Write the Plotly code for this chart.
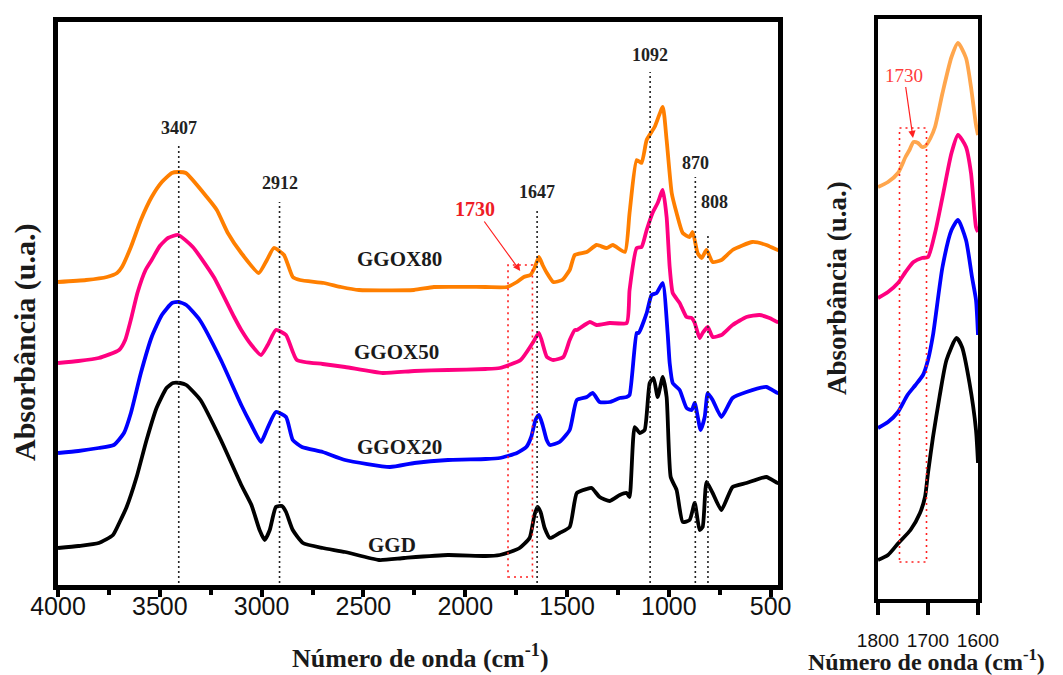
import plotly.graph_objects as go

# ---------------- FTIR spectra (main panel, arbitrary absorbance units) ----------------
wn_ggd = [4000, 3900, 3800, 3730, 3697, 3663, 3614, 3565, 3516, 3467, 3435, 3400, 3370, 3300, 3200,
          3100, 3050, 3010, 2985, 2960, 2930, 2900, 2880, 2847, 2797, 2700, 2590, 2423, 2300, 2085,
          1900, 1830, 1780, 1733, 1684, 1660, 1645, 1630, 1610, 1584, 1537, 1487, 1452, 1403, 1379,
          1340, 1290, 1241, 1207, 1193, 1168, 1143, 1119, 1094, 1075, 1055, 1030, 1011, 991, 962,
          932, 898, 873, 849, 834, 815, 785, 742, 687, 619, 521, 466, 452]
abs_ggd = [0.42, 0.44, 0.47, 0.55, 0.68, 0.83, 1.13, 1.50, 1.82, 2.02, 2.07, 2.07, 2.05, 1.90, 1.50,
           1.05, 0.85, 0.60, 0.50, 0.60, 0.83, 0.84, 0.78, 0.60, 0.47, 0.42, 0.38, 0.30, 0.32, 0.35,
           0.34, 0.35, 0.38, 0.42, 0.52, 0.75, 0.83, 0.78, 0.62, 0.52, 0.57, 0.63, 0.97, 1.01, 1.02,
           0.93, 0.89, 0.95, 0.97, 0.93, 1.63, 1.57, 1.60, 2.07, 2.12, 1.93, 2.13, 1.93, 1.13, 1.00,
           0.68, 0.70, 0.87, 0.60, 0.63, 1.08, 0.97, 0.80, 1.03, 1.07, 1.13, 1.07, 1.07]

wn_ggox20 = [4000, 3900, 3800, 3726, 3676, 3642, 3593, 3540, 3490, 3440, 3407, 3370, 3304, 3200, 3100,
             3050, 3003, 2975, 2930, 2880, 2847, 2802, 2700, 2590, 2370, 2250, 2085, 1900, 1830, 1746,
             1700, 1676, 1655, 1638, 1620, 1600, 1584, 1537, 1487, 1452, 1403, 1374, 1340, 1290, 1241,
             1207, 1193, 1158, 1148, 1109, 1085, 1060, 1030, 1006, 996, 981, 947, 913, 888, 873,
             844, 824, 809, 785, 742, 687, 619, 521, 466, 452]
abs_ggox20 = [1.37, 1.39, 1.42, 1.45, 1.57, 1.77, 2.17, 2.53, 2.75, 2.87, 2.88, 2.85, 2.70, 2.30, 1.85,
              1.65, 1.48, 1.60, 1.78, 1.73, 1.50, 1.43, 1.38, 1.30, 1.23, 1.27, 1.30, 1.31, 1.32, 1.37,
              1.43, 1.53, 1.70, 1.75, 1.65, 1.50, 1.45, 1.48, 1.60, 1.90, 1.93, 1.97, 1.88, 1.88, 1.92,
              1.93, 1.95, 2.57, 2.57, 2.77, 2.95, 2.97, 3.07, 2.57, 2.27, 2.07, 2.00, 1.82, 1.80, 1.87,
              1.60, 1.73, 1.97, 1.90, 1.73, 1.92, 1.98, 2.03, 1.97, 1.97]

wn_ggox50 = [4000, 3900, 3800, 3700, 3670, 3640, 3610, 3570, 3540, 3500, 3460, 3410, 3338, 3235, 3135,
             3100, 3050, 3003, 2970, 2930, 2880, 2827, 2700, 2590, 2406, 2250, 2085, 1900, 1830, 1728,
             1669, 1638, 1599, 1568, 1518, 1487, 1462, 1452, 1388, 1355, 1290, 1207, 1193, 1158, 1134,
             1109, 1080, 1055, 1030, 1011, 996, 981, 947, 913, 888, 873, 849, 834, 809, 785,
             742, 687, 619, 555, 506, 466, 452]
abs_ggox50 = [2.27, 2.29, 2.32, 2.40, 2.50, 2.72, 2.97, 3.20, 3.30, 3.44, 3.52, 3.55, 3.43, 3.13, 2.73,
              2.60, 2.45, 2.35, 2.45, 2.60, 2.55, 2.30, 2.26, 2.23, 2.17, 2.19, 2.20, 2.21, 2.22, 2.30,
              2.47, 2.57, 2.33, 2.30, 2.33, 2.50, 2.60, 2.60, 2.68, 2.65, 2.67, 2.67, 3.00, 3.42, 3.43,
              3.60, 3.77, 3.87, 4.00, 3.73, 3.23, 2.97, 2.87, 2.73, 2.72, 2.67, 2.52, 2.57, 2.63, 2.53,
              2.55, 2.65, 2.73, 2.75, 2.72, 2.68, 2.68]

wn_ggox80 = [4000, 3862, 3760, 3710, 3686, 3642, 3593, 3540, 3490, 3441, 3410, 3372, 3269, 3220, 3166,
             3100, 3014, 2974, 2940, 2890, 2847, 2812, 2694, 2610, 2522, 2252, 2154, 1900, 1795, 1746,
             1712, 1680, 1660, 1638, 1620, 1599, 1568, 1524, 1487, 1462, 1403, 1355, 1306, 1275, 1216,
             1193, 1158, 1134, 1109, 1070, 1030, 1011, 986, 962, 932, 898, 883, 859, 839, 815,
             785, 742, 687, 590, 521, 466, 452]
abs_ggox80 = [3.08, 3.10, 3.13, 3.17, 3.23, 3.43, 3.70, 3.93, 4.08, 4.17, 4.18, 4.17, 3.93, 3.80, 3.57,
              3.37, 3.17, 3.30, 3.42, 3.35, 3.13, 3.10, 3.07, 3.03, 3.00, 3.00, 3.03, 3.03, 3.03, 3.08,
              3.13, 3.15, 3.22, 3.33, 3.25, 3.17, 3.08, 3.10, 3.20, 3.35, 3.38, 3.45, 3.42, 3.45, 3.38,
              3.77, 4.30, 4.27, 4.50, 4.63, 4.83, 4.50, 3.97, 3.77, 3.57, 3.53, 3.58, 3.37, 3.32, 3.40,
              3.28, 3.30, 3.40, 3.48, 3.45, 3.40, 3.40]

# ---------------- carbonyl region 1800-1600 cm-1 (side panel) ----------------
wn_z_ggd = [1800, 1780, 1759, 1735, 1716, 1706, 1700, 1690, 1677, 1663, 1643, 1632, 1617, 1604, 1600]
abs_z_ggd = [0.40, 0.45, 0.57, 0.70, 0.87, 1.03, 1.27, 1.63, 2.03, 2.40, 2.62, 2.53, 2.17, 1.70, 1.37]

wn_z_ggox20 = [1800, 1780, 1760, 1741, 1725, 1710, 1700, 1690, 1671, 1653, 1640, 1624, 1612, 1604, 1600]
abs_z_ggox20 = [1.72, 1.78, 1.88, 2.05, 2.15, 2.25, 2.40, 2.65, 3.33, 3.70, 3.80, 3.60, 3.23, 3.00, 2.65]

wn_z_ggox50 = [1800, 1780, 1760, 1745, 1729, 1712, 1700, 1686, 1671, 1653, 1640, 1624, 1614, 1604, 1600]
abs_z_ggox50 = [3.02, 3.08, 3.17, 3.28, 3.38, 3.42, 3.43, 3.67, 4.03, 4.47, 4.65, 4.53, 4.27, 3.73, 3.68]

wn_z_ggox80 = [1800, 1780, 1760, 1745, 1737, 1729, 1720, 1712, 1705, 1695, 1686, 1671, 1653, 1640,
               1624, 1614, 1604, 1600]
abs_z_ggox80 = [4.13, 4.18, 4.27, 4.43, 4.50, 4.58, 4.57, 4.53, 4.54, 4.62, 4.73, 5.07, 5.43, 5.57,
                5.42, 5.13, 4.75, 4.65]

# ---------------- band assignments ----------------
peak_wn = [3407, 2912, 1647, 1092, 870, 808]
peak_text = ["3407", "2912", "1647", "1092", "870", "808"]
peak_label_y = [4.62, 4.07, 3.98, 5.35, 4.27, 3.88]
peak_line_top = [4.45, 3.88, 3.80, 5.18, 4.13, 3.57]
peak_label_dx = [0, 0, 0, 0, 0, 7]

sample_names = ["GGOX80", "GGOX50", "GGOX20", "GGD"]
sample_label_wn = [2321, 2336, 2321, 2360]
sample_label_y = [3.31, 2.38, 1.43, 0.45]

carbonyl_wn = 1730

W, H = 1063, 675
SERIF = "Liberation Serif"
SANS = "Liberation Sans"

main_series = [
    (wn_ggd, abs_ggd, "#000000", "GGD"),
    (wn_ggox20, abs_ggox20, "#0000FF", "GGOX20"),
    (wn_ggox50, abs_ggox50, "#FF0080", "GGOX50"),
    (wn_ggox80, abs_ggox80, "#FF7F00", "GGOX80"),
]
zoom_series = [
    (wn_z_ggd, abs_z_ggd, "#000000", "GGD"),
    (wn_z_ggox20, abs_z_ggox20, "#0000FF", "GGOX20"),
    (wn_z_ggox50, abs_z_ggox50, "#FF0080", "GGOX50"),
    (wn_z_ggox80, abs_z_ggox80, "#FFA64D", "GGOX80"),
]

fig = go.Figure()
for xs, ys, col, name in main_series:
    fig.add_trace(go.Scatter(x=xs, y=ys, mode="lines", name=name, showlegend=False,
                             line=dict(color=col, width=3.8, shape="spline", smoothing=0.5),
                             xaxis="x", yaxis="y"))
for xs, ys, col, name in zoom_series:
    fig.add_trace(go.Scatter(x=xs, y=ys, mode="lines", name=name, showlegend=False,
                             line=dict(color=col, width=3.8, shape="spline", smoothing=0.6),
                             xaxis="x2", yaxis="y2"))

shapes = []
# dotted guide lines under each band label
for wn, top in zip(peak_wn, peak_line_top):
    shapes.append(dict(type="line", xref="x", yref="y", x0=wn, x1=wn, y0=0.07, y1=top,
                       line=dict(color="#222222", width=1.6, dash="2px,3px")))
# dotted box around the carbonyl shoulder, main panel
shapes.append(dict(type="rect", xref="x", yref="y", x0=carbonyl_wn + 60, x1=carbonyl_wn - 60,
                   y0=0.13, y1=3.25, line=dict(color="#FF2020", width=1.6, dash="2px,4px")))
# dotted box in the side panel
shapes.append(dict(type="rect", xref="x2", yref="y2", x0=carbonyl_wn + 27, x1=carbonyl_wn - 27,
                   y0=0.38, y1=4.72, line=dict(color="#FF2020", width=1.6, dash="2px,4px")))

annotations = []
for wn, txt, ly, dx in zip(peak_wn, peak_text, peak_label_y, peak_label_dx):
    annotations.append(dict(x=wn, y=ly, xref="x", yref="y", text="<b>" + txt + "</b>",
                            showarrow=False, xshift=dx, xanchor="center", yanchor="middle",
                            font=dict(family=SERIF, size=18, color="#222222")))
for name, lx, ly in zip(sample_names, sample_label_wn, sample_label_y):
    annotations.append(dict(x=lx, y=ly, xref="x", yref="y", text="<b>" + name + "</b>",
                            showarrow=False, xanchor="center", yanchor="middle",
                            font=dict(family=SERIF, size=21, color="#1a1a1a")))
# carbonyl arrow, main panel
annotations.append(dict(x=carbonyl_wn, y=3.19, xref="x", yref="y", text="<b>1730</b>",
                        showarrow=True, ax=-45, ay=-62, arrowhead=2, arrowsize=1.2,
                        arrowwidth=1.2, arrowcolor="#FF2020", standoff=0,
                        font=dict(family=SERIF, size=20, color="#EE1C25")))
# carbonyl arrow, side panel
annotations.append(dict(x=carbonyl_wn, y=4.62, xref="x2", yref="y2", text="1730",
                        showarrow=True, ax=-9, ay=-63, arrowhead=2, arrowsize=1.2,
                        arrowwidth=1.2, arrowcolor="#FF2020", standoff=0,
                        font=dict(family=SERIF, size=19, color="#FF3B3B")))

# axis titles
xtitle = "<b>Número de onda (cm<sup>-1</sup>)</b>"
ytitle = "<b>Absorbância (u.a.)</b>"
annotations += [
    dict(x=420 / W, y=1 - 656 / H, xref="paper", yref="paper", text=xtitle, showarrow=False,
         xanchor="center", yanchor="middle", font=dict(family=SERIF, size=26, color="#1a1a1a")),
    dict(x=926 / W, y=1 - 660 / H, xref="paper", yref="paper", text=xtitle, showarrow=False,
         xanchor="center", yanchor="middle", font=dict(family=SERIF, size=24, color="#1a1a1a")),
    dict(x=25 / W, y=1 - 342 / H, xref="paper", yref="paper", text=ytitle, showarrow=False,
         textangle=-90, xanchor="center", yanchor="middle",
         font=dict(family=SERIF, size=30, color="#1a1a1a")),
    dict(x=837 / W, y=1 - 288 / H, xref="paper", yref="paper", text=ytitle, showarrow=False,
         textangle=-90, xanchor="center", yanchor="middle",
         font=dict(family=SERIF, size=27, color="#1a1a1a")),
]

fig.update_layout(
    width=W, height=H,
    margin=dict(l=0, r=0, t=0, b=0, autoexpand=False),
    paper_bgcolor="white", plot_bgcolor="white",
    showlegend=False,
    shapes=shapes,
    annotations=annotations,
    xaxis=dict(domain=[58 / W, 778 / W], range=[4000, 464], anchor="y",
               showline=True, mirror=True, linecolor="black", linewidth=5,
               ticks="outside", ticklen=7, tickwidth=4, tickcolor="black",
               tick0=500, dtick=500, showgrid=False, zeroline=False,
               ticklabelstandoff=-12,
               tickfont=dict(family=SANS, size=25, color="#111111"),
               minor=dict(ticks="outside", ticklen=5, tickwidth=4, tickcolor="black",
                          dtick=250, tick0=500, showgrid=False)),
    yaxis=dict(domain=[1 - 585 / H, 1 - 22 / H], range=[0.05, 5.68], anchor="x",
               showline=True, mirror=True, linecolor="black", linewidth=5,
               ticks="", showticklabels=False, showgrid=False, zeroline=False),
    xaxis2=dict(domain=[878 / W, 978 / W], range=[1800, 1600], anchor="y2",
                showline=True, mirror=True, linecolor="black", linewidth=4,
                ticks="outside", ticklen=12, tickwidth=4, tickcolor="black",
                tickvals=[1800, 1700, 1600], ticktext=["1800", "1700", "1600"],
                showgrid=False, zeroline=False, ticklabelstandoff=9,
                tickfont=dict(family=SANS, size=19, color="#111111")),
    yaxis2=dict(domain=[1 - 599 / H, 1 - 19 / H], range=[0.01, 5.81], anchor="x2",
                showline=True, mirror=True, linecolor="black", linewidth=4,
                ticks="", showticklabels=False, showgrid=False, zeroline=False),
)

fig.write_html("out.html")
